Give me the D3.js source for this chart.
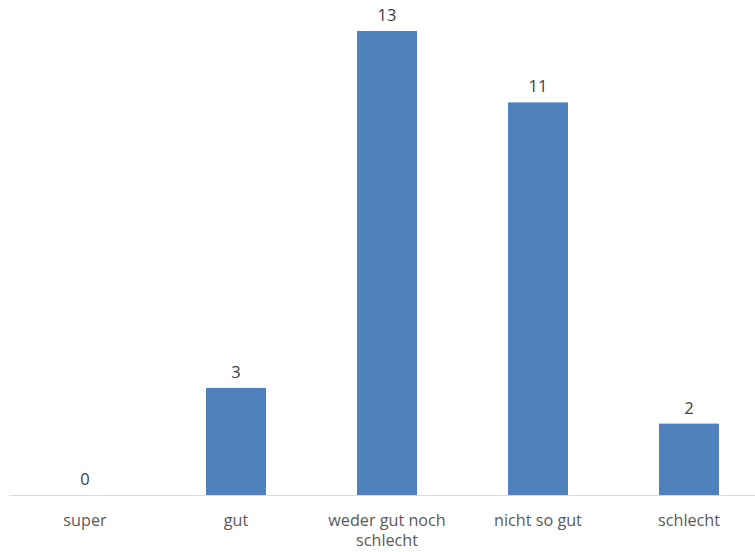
<!DOCTYPE html>
<html><head><meta charset="utf-8">
<script src="https://cdn.jsdelivr.net/npm/d3@7"></script>
<style>body{margin:0;background:#fff}svg{display:block}</style>
</head><body>
<svg id="c" width="755" height="552"></svg>
<script>
const categories = ["super", "gut", "weder gut noch schlecht", "nicht so gut", "schlecht"];
const categoryLines = [["super"], ["gut"], ["weder gut noch", "schlecht"], ["nicht so gut"], ["schlecht"]];
const values = [0, 3, 13, 11, 2];

const svg = d3.select("#c");
const x = d3.scaleBand().domain(categories).range([9.5, 764.5]).paddingInner(0.6028).paddingOuter(0.3014);
const y = d3.scaleLinear().domain([0, 13]).range([495, 31]);
const font = "'Open Sans', 'Liberation Sans', sans-serif";

svg.append("line").attr("x1", 9).attr("x2", 755).attr("y1", y(0) + 0.5).attr("y2", y(0) + 0.5)
  .attr("stroke", "#d9d9d9").attr("stroke-width", 1);

svg.selectAll("rect.bar").data(values).join("rect").attr("class", "bar")
  .attr("x", (d, i) => x(categories[i]))
  .attr("width", x.bandwidth())
  .attr("y", d => y(d))
  .attr("height", d => y(0) - y(d))
  .attr("fill", "#4f81bd");

svg.selectAll("text.val").data(values).join("text").attr("class", "val")
  .attr("x", (d, i) => x(categories[i]) + x.bandwidth() / 2)
  .attr("y", d => y(d) - 10)
  .attr("text-anchor", "middle")
  .attr("font-family", font).attr("font-size", 16.5).attr("fill", "#404040")
  .text(d => d);

const g = svg.selectAll("text.cat").data(categories).join("text").attr("class", "cat")
  .attr("x", d => x(d) + x.bandwidth() / 2)
  .attr("y", 526)
  .attr("text-anchor", "middle")
  .attr("font-family", font).attr("font-size", 16.2).attr("fill", "#595959");
g.each(function(d, i) {
  const t = d3.select(this);
  categoryLines[i].forEach((line, j) => {
    t.append("tspan").attr("x", x(d) + x.bandwidth() / 2).attr("dy", j === 0 ? 0 : 20).text(line);
  });
});
</script>
</body></html>
